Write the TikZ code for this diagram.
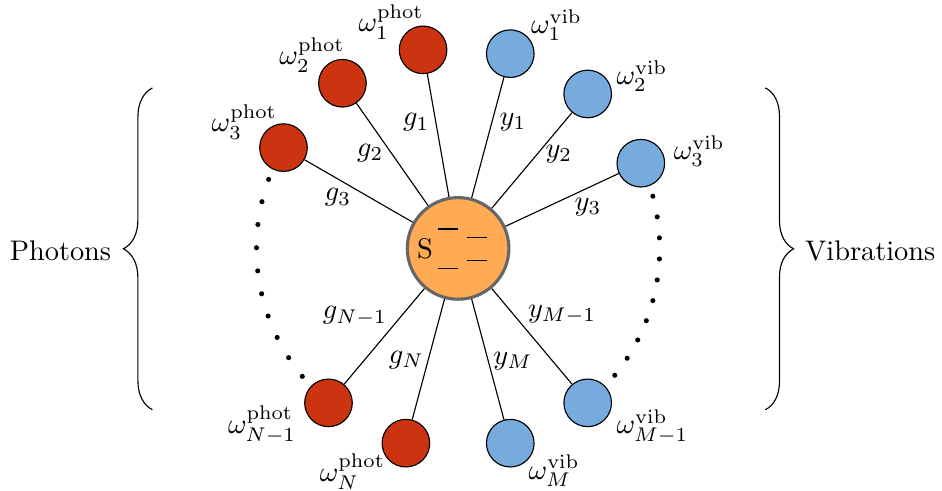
\documentclass[tikz,border=0pt]{standalone}
\usepackage{amsmath}
\usetikzlibrary{decorations.pathreplacing}
\definecolor{photcol}{HTML}{CC3311}
\definecolor{vibcol}{HTML}{77AADD}
\definecolor{syscol}{HTML}{FFAA55}
\definecolor{rimcol}{HTML}{666666}

\begin{document}
\begin{tikzpicture}[
    mode/.style={circle, draw=black, line width=0.4pt, minimum size=0.59cm, inner sep=0pt},
    pmode/.style={mode, fill=photcol},
    vmode/.style={mode, fill=vibcol},
    sysnode/.style={circle, draw=rimcol, fill=syscol, line width=1.1pt, minimum size=1.26cm, inner sep=0pt},
    lab/.style={inner sep=0pt},
    dot/.style={fill=black},
]
\useasboundingbox (-5.68,-3.00) rectangle (6.00,3.08);

% the system in the middle
\node[sysnode] (S) at (0,0) {};
\node[lab] (Slab) at (-0.41,-0.01) {S};
\foreach \xa/\xb/\y in {-0.25/0.00/0.24, 0.11/0.36/0.14, -0.25/0.00/-0.25, 0.11/0.36/-0.155}{
    \draw[line width=0.4pt] (\xa,\y) -- (\xb,\y);
}

% photon modes
\foreach \a/\n in {100/1, 125/2, 150/3, 230/4, 255/5}{
    \node[pmode] (p\n) at (\a:2.5) {};
    \draw (S) -- (p\n);
}
% vibrational modes
\foreach \a/\n in {75/1, 50/2, 25/3, 310/4, 285/5}{
    \node[vmode] (v\n) at (\a:2.5) {};
    \draw (S) -- (v\n);
}

% couplings
\foreach \n/\x/\y/\t in {1/-0.52/1.56/g_1, 2/-1.09/1.18/g_2, 3/-1.49/0.63/g_3,
    4/-1.28/-0.84/g_{N-1}, 5/-0.64/-1.38/g_N}{
    \node[lab] (g\n) at (\x,\y) {$\t$};
}
\foreach \n/\x/\y/\t in {1/0.68/1.57/y_1, 2/1.25/1.17/y_2, 3/1.61/0.51/y_3,
    4/1.29/-0.82/y_{M-1}, 5/0.68/-1.40/y_M}{
    \node[lab] (y\n) at (\x,\y) {$\t$};
}

% mode frequencies
\foreach \n/\x/\y/\k in {1/-0.83/2.81/1, 2/-1.81/2.40/2, 3/-2.65/1.57/3,
    4/-2.43/-2.19/{N-1}, 5/-1.31/-2.77/N}{
    \node[lab] (wp\n) at (\x,\y) {$\omega_{\k}^{\mathrm{phot}}$};
}
\foreach \n/\x/\y/\k in {1/1.22/2.77/1, 2/2.28/2.14/2, 3/2.99/1.21/3,
    4/2.41/-2.21/{M-1}, 5/1.19/-2.76/M}{
    \node[lab] (wv\n) at (\x,\y) {$\omega_{\k}^{\mathrm{vib}}$};
}

% the modes left out
\foreach \i in {0,...,9}{
    \fill[dot] ({160+\i*6.6}:2.5) circle (0.9pt);
    \fill[dot] ({15-\i*6}:2.5) circle (0.9pt);
}

% the two baths
\draw[decorate, decoration={brace, amplitude=0.36cm}] (-3.79,-2.00) -- (-3.79,1.99);
\draw[decorate, decoration={brace, amplitude=0.35cm}] (3.81,1.99) -- (3.81,-2.00);
\node (photons) at (-4.93,-0.03) {Photons};
\node (vibrations) at (5.11,-0.03) {Vibrations};
\end{tikzpicture}
\end{document}
